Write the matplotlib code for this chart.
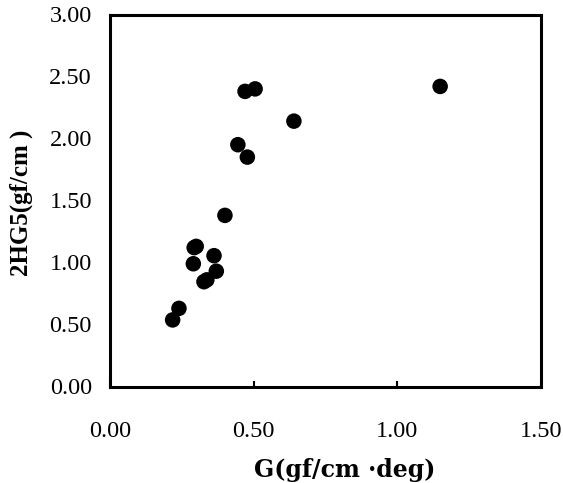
import matplotlib
matplotlib.use("Agg")
import matplotlib.pyplot as plt

# Data
g_values = [1.149, 0.470, 0.505, 0.640, 0.445, 0.478, 0.400, 0.293, 0.300, 0.290,
            0.362, 0.370, 0.327, 0.337, 0.240, 0.218]
hg5_values = [2.42, 2.38, 2.40, 2.14, 1.95, 1.85, 1.38, 1.12, 1.13, 0.99,
              1.055, 0.93, 0.845, 0.86, 0.63, 0.537]

x_ticks = [0.0, 0.5, 1.0, 1.5]
x_tick_labels = ["0.00", "0.50", "1.00", "1.50"]
y_ticks = [0.0, 0.5, 1.0, 1.5, 2.0, 2.5, 3.0]
y_tick_labels = ["0.00", "0.50", "1.00", "1.50", "2.00", "2.50", "3.00"]

plt.rcParams['font.family'] = ['Liberation Serif', 'DejaVu Serif']

fig = plt.figure(figsize=(5.63, 4.83), dpi=100)
ax = fig.add_axes([110/563, (483-386.5)/483, (541-110)/563, (386.5-14.5)/483])

ax.scatter(g_values, hg5_values, s=125, color='black', edgecolors='none', zorder=3)

ax.set_xlim(0, 1.5)
ax.set_ylim(0, 3.0)
ax.set_xticks(x_ticks)
ax.set_xticklabels(x_tick_labels)
ax.set_yticks(y_ticks)
ax.set_yticklabels(y_tick_labels)
ax.tick_params(axis='x', direction='in', length=4, width=1.5, pad=24.5, labelsize=17.5)
ax.tick_params(axis='y', direction='in', length=0, width=1.5, pad=13, labelsize=17.5)

for sp in ax.spines.values():
    sp.set_linewidth(2.2)
    sp.set_color('black')

ax.set_xlabel("G(gf/cm ·deg)", fontsize=17, fontweight='bold', family=['DejaVu Serif'])
ax.xaxis.label.set_verticalalignment('center')
ax.xaxis.set_label_coords((345-110)/431, -(470-386.5)/372)
ax.set_ylabel("2HG5(gf/cm )", fontsize=18, fontweight='bold')
ax.yaxis.label.set_verticalalignment('center')
ax.yaxis.set_label_coords(-(110-21)/431, (386.5-202.5)/372)

fig.savefig("out.png", dpi=100)
